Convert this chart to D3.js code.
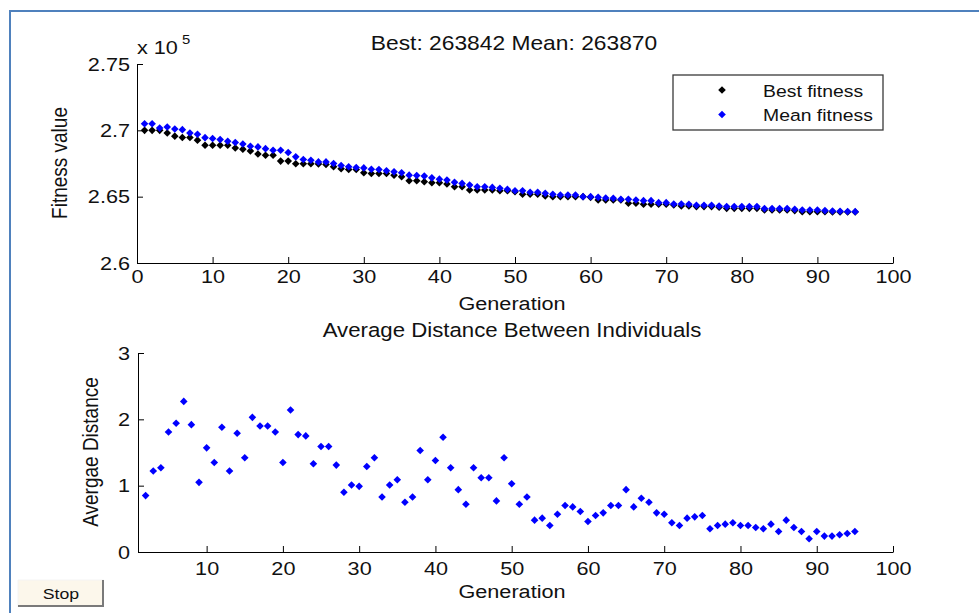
<!DOCTYPE html>
<html><head><meta charset="utf-8">
<script src="https://cdn.jsdelivr.net/npm/d3@7/dist/d3.min.js"></script>
<style>
html,body{margin:0;padding:0;background:#fff;}
svg{display:block;}
</style></head><body><svg id="chart" width="979" height="613"></svg>
<script>
// ---------------- DATA ----------------
const generations = [1,2,3,4,5,6,7,8,9,10,11,12,13,14,15,16,17,18,19,20,21,22,23,24,25,26,27,28,29,30,31,32,33,34,35,36,37,38,39,40,41,42,43,44,45,46,47,48,49,50,51,52,53,54,55,56,57,58,59,60,61,62,63,64,65,66,67,68,69,70,71,72,73,74,75,76,77,78,79,80,81,82,83,84,85,86,87,88,89,90,91,92,93,94,95];
// fitness values in units of 10^5
const bestFitness = [2.7000,2.7000,2.7000,2.6980,2.6956,2.6946,2.6946,2.6926,2.6888,2.6888,
  2.6888,2.6888,2.6867,2.6858,2.6845,2.6822,2.6812,2.6812,2.6768,2.6768,
  2.6748,2.6748,2.6748,2.6747,2.6742,2.6725,2.6710,2.6705,2.6705,2.6680,
  2.6675,2.6675,2.6675,2.6662,2.6650,2.6620,2.6620,2.6612,2.6605,2.6605,
  2.6595,2.6575,2.6575,2.6550,2.6550,2.6550,2.6550,2.6545,2.6545,2.6537,
  2.6518,2.6518,2.6518,2.6505,2.6500,2.6500,2.6500,2.6500,2.6500,2.6495,
  2.6475,2.6475,2.6475,2.6475,2.6450,2.6450,2.6443,2.6443,2.6443,2.6443,
  2.6437,2.6430,2.6430,2.6425,2.6425,2.6425,2.6420,2.6412,2.6412,2.6412,
  2.6412,2.6412,2.6400,2.6400,2.6400,2.6400,2.6395,2.6387,2.6387,2.6387,
  2.6386,2.6385,2.6384,2.63842,2.63842];
const meanFitness = [2.7050,2.7050,2.7017,2.7025,2.7010,2.7005,2.6980,2.6970,2.6945,2.6938,
  2.6930,2.6918,2.6908,2.6897,2.6880,2.6875,2.6862,2.6850,2.6850,2.6833,
  2.6800,2.6780,2.6775,2.6762,2.6762,2.6750,2.6735,2.6725,2.6720,2.6717,
  2.6707,2.6705,2.6695,2.6687,2.6680,2.6662,2.6660,2.6655,2.6642,2.6632,
  2.6625,2.6608,2.6600,2.6587,2.6575,2.6575,2.6570,2.6563,2.6555,2.6545,
  2.6545,2.6533,2.6533,2.6525,2.6518,2.6512,2.6512,2.6512,2.6500,2.6500,
  2.6495,2.6490,2.6488,2.6480,2.6480,2.6475,2.6470,2.6470,2.6455,2.6455,
  2.6445,2.6445,2.6443,2.6435,2.6435,2.6435,2.6430,2.6425,2.6425,2.6425,
  2.6425,2.6425,2.6410,2.6410,2.6410,2.6410,2.6405,2.6400,2.6400,2.6400,
  2.6395,2.6392,2.6390,2.6388,2.63870];
const distGenerations = [2,3,4,5,6,7,8,9,10,11,12,13,14,15,16,17,18,19,20,21,22,23,24,25,26,27,28,29,30,31,32,33,34,35,36,37,38,39,40,41,42,43,44,45,46,47,48,49,50,51,52,53,54,55,56,57,58,59,60,61,62,63,64,65,66,67,68,69,70,71,72,73,74,75,76,77,78,79,80,81,82,83,84,85,86,87,88,89,90,91,92,93,94,95];
const avgDistance = [0.85,1.22,1.27,1.81,1.94,2.27,1.92,1.05,1.57,1.35,
  1.88,1.22,1.79,1.42,2.03,1.90,1.90,1.81,1.35,2.14,
  1.77,1.75,1.33,1.59,1.59,1.31,0.90,1.01,0.99,1.29,
  1.42,0.83,1.01,1.09,0.75,0.83,1.53,1.09,1.38,1.73,
  1.27,0.94,0.72,1.27,1.12,1.12,0.77,1.42,1.03,0.72,
  0.83,0.48,0.51,0.40,0.57,0.70,0.68,0.61,0.46,0.55,
  0.59,0.70,0.70,0.94,0.68,0.81,0.75,0.59,0.57,0.44,
  0.40,0.51,0.53,0.55,0.35,0.40,0.42,0.44,0.40,0.40,
  0.37,0.35,0.42,0.31,0.48,0.37,0.31,0.20,0.31,0.24,
  0.24,0.26,0.28,0.31];
const topXTicks = [0,10,20,30,40,50,60,70,80,90,100];
const topYTicks = [2.6,2.65,2.7,2.75];
const botXTicks = [10,20,30,40,50,60,70,80,90,100];
const botYTicks = [0,1,2,3];
const legendLabels = ["Best fitness","Mean fitness"];
const seriesColors = ["#000000","#0000ff"];
const topTitle = "Best: 263842 Mean: 263870";
const botTitle = "Average Distance Between Individuals";
const xLabel = "Generation";
const topYLabel = "Fitness value";
const botYLabel = "Avergae Distance";
const buttonLabel = "Stop";

// ---------------- DRAW ----------------
const FONT = '"Liberation Sans", Arial, sans-serif';
const SX = 1.14;               // horizontal text stretch of the reference
const INK = "#111";
const svg = d3.select("#chart").attr("font-family", FONT);

svg.append("rect").attr("width",979).attr("height",613).attr("fill","#fff");
// window frame
svg.append("path").attr("d","M10,613 L10,11 L979,11")
  .attr("fill","none").attr("stroke","#4f81bd").attr("stroke-width",2);

function addText(x, y, str, size, anchor, rotate){
  return svg.append("text")
    .attr("transform", `translate(${x},${y}) scale(${SX},1)` + (rotate ? " rotate(-90)" : ""))
    .attr("text-anchor", anchor || "middle")
    .attr("font-size", size).attr("fill", INK).text(str);
}
function styleAxis(g, size){
  g.attr("font-family", FONT).attr("font-size", size);
  g.select(".domain").attr("stroke","#000").attr("stroke-width",1);
  g.selectAll(".tick line").attr("stroke","#000");
  g.selectAll(".tick text").attr("fill", INK).each(function(){
    const t = d3.select(this);
    const x = +t.attr("x") || 0;
    t.attr("x", null).attr("transform", `translate(${x},0) scale(${SX},1)`);
  });
}
const diamond = "M0,-3.8L3.8,0L0,3.8L-3.8,0Z";

// ---- top axes ----
const xTop = d3.scaleLinear().domain([0,100]).range([137,893]);
const yTop = d3.scaleLinear().domain([2.6,2.75]).range([263,64]);

const gxTop = svg.append("g").attr("transform",`translate(0,${yTop(2.6)})`)
  .call(d3.axisBottom(xTop).tickValues(topXTicks).tickSizeInner(-6).tickSizeOuter(0).tickPadding(7).tickFormat(d3.format("d")));
styleAxis(gxTop, 19);
const gyTop = svg.append("g").attr("transform",`translate(${xTop(0)},0)`)
  .call(d3.axisLeft(yTop).tickValues(topYTicks).tickSizeInner(-6).tickSizeOuter(0).tickPadding(7).tickFormat(d => String(+d.toFixed(2))));
styleAxis(gyTop, 19);

const topData = generations.map((g,i) => ({g, best: bestFitness[i], mean: meanFitness[i]}));
svg.append("g").selectAll("path").data(topData).join("path")
  .attr("d", diamond).attr("fill", seriesColors[0])
  .attr("transform", d => `translate(${xTop(d.g)},${yTop(d.best)})`);
svg.append("g").selectAll("path").data(topData).join("path")
  .attr("d", diamond).attr("fill", seriesColors[1])
  .attr("transform", d => `translate(${xTop(d.g)},${yTop(d.mean)})`);

addText(514, 50, topTitle, 20);
addText(137, 54, "x 10", 19, "start");
addText(182, 44, "5", 13, "start");
addText(512, 310, xLabel, 19);
addText(67, 163, topYLabel, 19, "middle", true);

// legend
const leg = svg.append("g");
leg.append("rect").attr("x",673).attr("y",75).attr("width",210).attr("height",55)
  .attr("fill","#fff").attr("stroke","#3a3a3a").attr("stroke-width",1.3);
legendLabels.forEach((lab,i) => {
  const cy = 90 + i*24.5;
  leg.append("path").attr("d", diamond).attr("fill", seriesColors[i])
    .attr("transform", `translate(722,${cy})`);
  addText(763, cy + 6.5, lab, 17, "start");
});

// ---- bottom axes ----
const xBot = d3.scaleLinear().domain([1,100]).range([138,893]);
const yBot = d3.scaleLinear().domain([0,3]).range([552,353]);

const gxBot = svg.append("g").attr("transform",`translate(0,${yBot(0)})`)
  .call(d3.axisBottom(xBot).tickValues(botXTicks).tickSizeInner(-6).tickSizeOuter(0).tickPadding(10).tickFormat(d3.format("d")));
styleAxis(gxBot, 19);
const gyBot = svg.append("g").attr("transform",`translate(${xBot(1)},0)`)
  .call(d3.axisLeft(yBot).tickValues(botYTicks).tickSizeInner(-6).tickSizeOuter(0).tickPadding(8).tickFormat(d3.format("d")));
styleAxis(gyBot, 19);

const botData = distGenerations.map((g,i) => ({g, v: avgDistance[i]}));
svg.append("g").selectAll("path").data(botData).join("path")
  .attr("d", diamond).attr("fill", seriesColors[1])
  .attr("transform", d => `translate(${xBot(d.g)},${yBot(d.v)})`);

addText(512, 337, botTitle, 19.5);
addText(512, 598, xLabel, 19);
addText(98, 452, botYLabel, 19, "middle", true);

// Stop button
const btn = svg.append("g");
btn.append("rect").attr("x",18).attr("y",580).attr("width",86).attr("height",27).attr("fill","#fcf7eb");
btn.append("path").attr("d","M18,607 L18,580 L104,580").attr("fill","none").attr("stroke","#f4f4f4").attr("stroke-width",1);
btn.append("path").attr("d","M18,606 L103,606 L103,580").attr("fill","none").attr("stroke","#7a7a7a").attr("stroke-width",2);
addText(61, 599, buttonLabel, 15.5);
</script></body></html>
